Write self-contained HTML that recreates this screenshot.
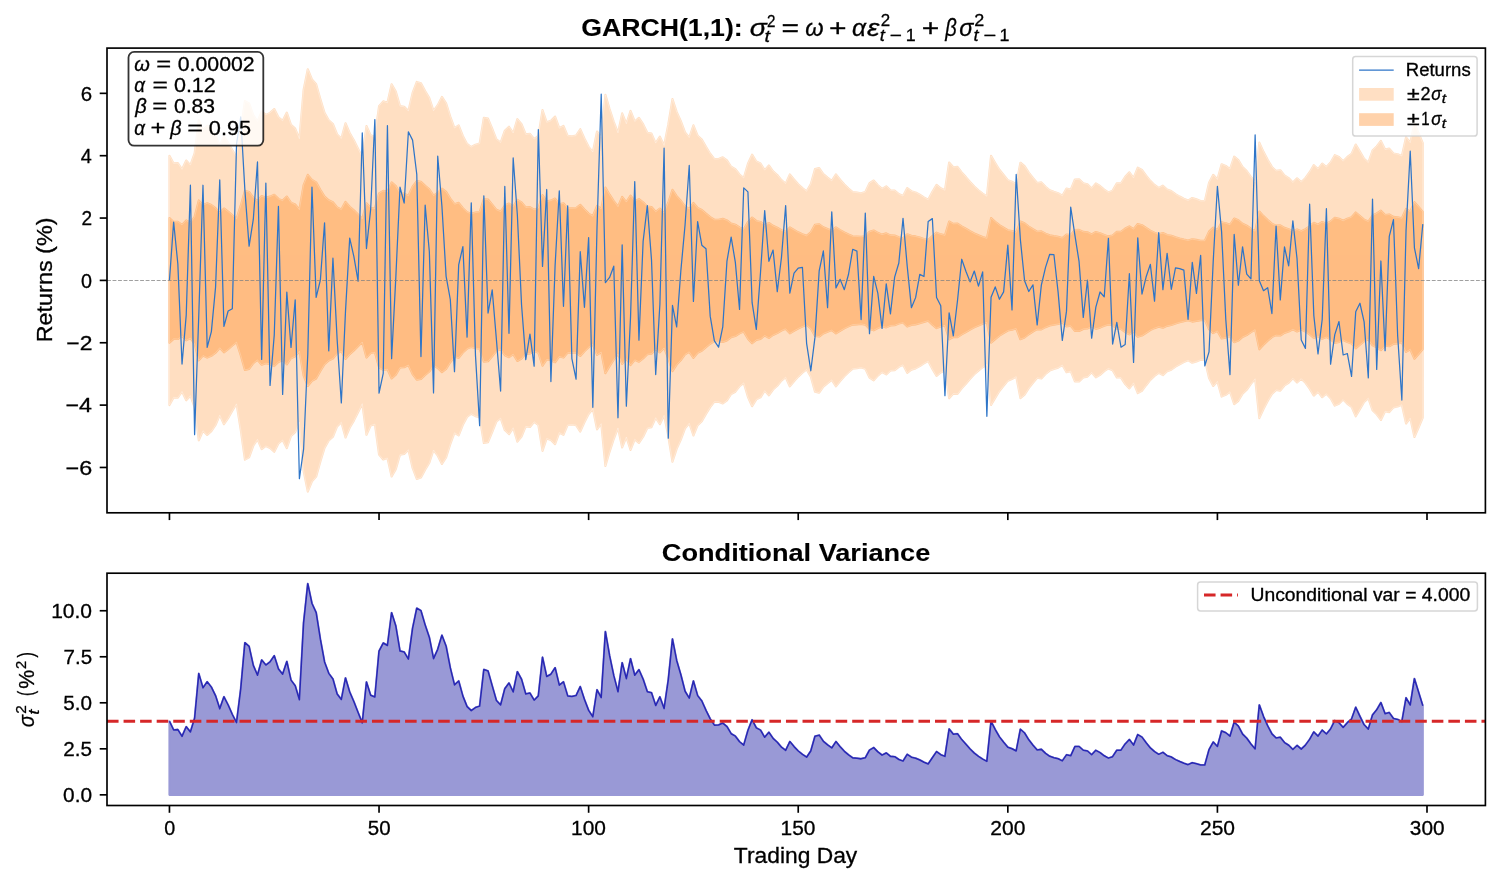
<!DOCTYPE html>
<html><head><meta charset="utf-8"><title>GARCH(1,1)</title><style>html,body{margin:0;padding:0;background:#fff;overflow:hidden;}svg{display:block;will-change:transform;} text{stroke:#000;stroke-width:0.3px;} text[font-weight="bold"]{stroke-width:0.1px;}</style></head><body>
<svg width="1501" height="883" viewBox="0 0 1501 883" font-family='"Liberation Sans", sans-serif'>
<rect x="0" y="0" width="1501" height="883" fill="#ffffff"/>
<defs><clipPath id="c1"><rect x="107" y="48.1" width="1378.4" height="464.7"/></clipPath><clipPath id="c2"><rect x="107" y="573.2" width="1378.4" height="232.3"/></clipPath></defs>
<g clip-path="url(#c1)">
<g opacity="0.25"><polygon points="169.45,155.69 173.64,163.41 177.83,163.05 182.03,169.32 186.22,160.49 190.41,165.12 194.6,153.29 198.79,120.38 202.98,130.08 207.18,125.88 211.37,129.57 215.56,135.77 219.75,145.64 223.94,136.53 228.14,142.66 232.33,150.12 236.52,156.91 240.71,130.94 244.9,101.13 249.09,103.37 253.29,115.02 257.48,121.46 261.67,111.63 265.86,114.83 270.05,112.84 274.25,109 278.44,117.32 282.63,120.78 286.82,112.57 291.01,124.77 295.2,128.61 299.4,138.69 303.59,89.83 307.78,69.21 311.97,79.36 316.16,84.2 320.36,99.1 324.55,112.89 328.74,120.21 332.93,124.01 337.12,134.41 341.32,138.53 345.51,123.26 349.7,133.01 353.89,140.16 358.08,148.6 362.27,157.12 366.47,126.04 370.66,135.34 374.85,136.66 379.04,106.2 383.23,101.34 387.43,102.8 391.62,84.27 395.81,91.6 400,106.14 404.19,106.77 408.38,111.07 412.58,92.86 416.77,81.88 420.96,83.18 425.15,91.06 429.34,98.05 433.54,110.79 437.73,105.1 441.92,96.85 446.11,103.27 450.3,116.61 454.49,128.03 458.69,125.32 462.88,135.99 467.07,143.89 471.26,147.02 475.45,144.66 479.65,143.53 483.84,117.74 488.03,118.63 492.22,128.71 496.41,139.26 500.6,142.6 504.8,130.69 508.99,126.71 513.18,133 517.37,119.14 521.56,124.21 525.76,134.4 529.95,133.82 534.14,139 538.33,135.83 542.52,109.96 546.71,122.34 550.91,120.78 555.1,116.58 559.29,128.22 563.48,125.95 567.67,135.84 571.87,136.22 576.06,135.6 580.25,129.21 584.44,138.47 588.63,146.82 592.83,152.06 597.02,131.47 601.21,137.09 605.4,94.76 609.59,108.98 613.78,121.75 617.98,132.86 622.17,113.37 626.36,123.74 630.55,110.88 634.74,121.46 638.94,117.84 643.13,124.11 647.32,132.79 651.51,133.62 655.7,143.07 659.89,136.58 664.09,145.42 668.28,124.53 672.47,99.02 676.66,111.93 680.85,121.11 685.05,132.48 689.24,137.54 693.43,125.3 697.62,135.64 701.81,139.58 706,146.87 710.2,153.68 714.39,159.08 718.58,158.95 722.77,157.26 726.96,160.38 731.16,166.77 735.35,169.08 739.54,174.48 743.73,177.96 747.92,163.8 752.11,154.6 756.31,161.44 760.5,163.46 764.69,170.15 768.88,165.47 773.07,171.24 777.27,174.99 781.46,180.1 785.65,183.56 789.84,174.35 794.03,179.46 798.22,184.17 802.42,188.01 806.61,191.27 810.8,184.11 814.99,169.08 819.18,168.11 823.38,174.16 827.57,177.64 831.76,180.9 835.95,174.34 840.14,179.7 844.34,184.51 848.53,188.47 852.72,192.02 856.91,192.51 861.1,193.22 865.29,191.96 869.49,183.19 873.68,180.5 877.87,185.17 882.06,188.82 886.25,186.35 890.45,190.26 894.64,190.64 898.83,193.97 903.02,196 907.21,187.98 911.4,191.16 915.6,192.39 919.79,194.68 923.98,197.37 928.17,199.73 932.36,191.85 936.56,184.91 940.75,188.28 944.94,190.24 949.13,162.49 953.32,167.18 957.51,166.87 961.71,172.37 965.9,177.06 970.09,182.01 974.28,186.52 978.47,190.2 982.67,193.54 986.86,196.28 991.05,155.85 995.24,162.97 999.43,169.75 1003.62,174.99 1007.82,180.09 1012.01,181.78 1016.2,184.13 1020.39,162.68 1024.58,166.09 1028.78,172.59 1032.97,178.01 1037.16,182.99 1041.35,182.38 1045.54,186.79 1049.73,190.22 1053.93,191.77 1058.12,193.14 1062.31,195.75 1066.5,188.48 1070.69,189.6 1074.89,179.44 1079.08,179.31 1083.27,183.31 1087.46,184.18 1091.65,188.41 1095.85,183.44 1100.04,185.93 1104.23,189.57 1108.42,192.34 1112.61,190.59 1116.8,183.35 1121,183.23 1125.19,176.69 1129.38,172.32 1133.57,177.96 1137.76,167.64 1141.96,169.96 1146.15,175.56 1150.34,180.87 1154.53,184.88 1158.72,187.9 1162.91,185.67 1167.11,189.48 1171.3,191.02 1175.49,194.11 1179.68,196.53 1183.87,198.66 1188.07,200.57 1192.26,197.98 1196.45,199.34 1200.64,200.95 1204.83,200.92 1209.02,182.76 1213.22,174.82 1217.41,179.38 1221.6,164.22 1225.79,165.9 1229.98,169.08 1234.18,156.62 1238.37,159.95 1242.56,167.13 1246.75,171.02 1250.94,176.83 1255.13,182 1259.33,142.62 1263.52,151.81 1267.71,159.77 1271.9,166.9 1276.09,170.88 1280.29,170.2 1284.48,175.33 1288.67,178.04 1292.86,182.55 1297.05,178.26 1301.25,182.13 1305.44,177.93 1309.63,172.19 1313.82,165.15 1318.01,169.07 1322.2,163.53 1326.4,167.05 1330.59,162.47 1334.78,155.15 1338.97,157.07 1343.16,161.18 1347.36,156.93 1351.55,153.92 1355.74,144.46 1359.93,151.61 1364.12,158.76 1368.31,162.56 1372.51,150.56 1376.7,146.43 1380.89,140.83 1385.08,149.53 1389.27,148.62 1393.47,153.42 1397.66,154.2 1401.85,156.02 1406.04,137.27 1410.23,142.66 1414.42,123.76 1418.62,133.26 1422.81,143.24 1422.81,417.56 1418.62,427.54 1414.42,437.04 1410.23,418.14 1406.04,423.53 1401.85,404.78 1397.66,406.6 1393.47,407.38 1389.27,412.18 1385.08,411.27 1380.89,419.97 1376.7,414.37 1372.51,410.24 1368.31,398.24 1364.12,402.04 1359.93,409.19 1355.74,416.34 1351.55,406.88 1347.36,403.87 1343.16,399.62 1338.97,403.73 1334.78,405.65 1330.59,398.33 1326.4,393.75 1322.2,397.27 1318.01,391.73 1313.82,395.65 1309.63,388.61 1305.44,382.87 1301.25,378.67 1297.05,382.54 1292.86,378.25 1288.67,382.76 1284.48,385.47 1280.29,390.6 1276.09,389.92 1271.9,393.9 1267.71,401.03 1263.52,408.99 1259.33,418.18 1255.13,378.8 1250.94,383.97 1246.75,389.78 1242.56,393.67 1238.37,400.85 1234.18,404.18 1229.98,391.72 1225.79,394.9 1221.6,396.58 1217.41,381.42 1213.22,385.98 1209.02,378.04 1204.83,359.88 1200.64,359.85 1196.45,361.46 1192.26,362.82 1188.07,360.23 1183.87,362.14 1179.68,364.27 1175.49,366.69 1171.3,369.78 1167.11,371.32 1162.91,375.13 1158.72,372.9 1154.53,375.92 1150.34,379.93 1146.15,385.24 1141.96,390.84 1137.76,393.16 1133.57,382.84 1129.38,388.48 1125.19,384.11 1121,377.57 1116.8,377.45 1112.61,370.21 1108.42,368.46 1104.23,371.23 1100.04,374.87 1095.85,377.36 1091.65,372.39 1087.46,376.62 1083.27,377.49 1079.08,381.49 1074.89,381.36 1070.69,371.2 1066.5,372.32 1062.31,365.05 1058.12,367.66 1053.93,369.03 1049.73,370.58 1045.54,374.01 1041.35,378.42 1037.16,377.81 1032.97,382.79 1028.78,388.21 1024.58,394.71 1020.39,398.12 1016.2,376.67 1012.01,379.02 1007.82,380.71 1003.62,385.81 999.43,391.05 995.24,397.83 991.05,404.95 986.86,364.52 982.67,367.26 978.47,370.6 974.28,374.28 970.09,378.79 965.9,383.74 961.71,388.43 957.51,393.93 953.32,393.62 949.13,398.31 944.94,370.56 940.75,372.52 936.56,375.89 932.36,368.95 928.17,361.07 923.98,363.43 919.79,366.12 915.6,368.41 911.4,369.64 907.21,372.82 903.02,364.8 898.83,366.83 894.64,370.16 890.45,370.54 886.25,374.45 882.06,371.98 877.87,375.63 873.68,380.3 869.49,377.61 865.29,368.84 861.1,367.58 856.91,368.29 852.72,368.78 848.53,372.33 844.34,376.29 840.14,381.1 835.95,386.46 831.76,379.9 827.57,383.16 823.38,386.64 819.18,392.69 814.99,391.72 810.8,376.69 806.61,369.53 802.42,372.79 798.22,376.63 794.03,381.34 789.84,386.45 785.65,377.24 781.46,380.7 777.27,385.81 773.07,389.56 768.88,395.33 764.69,390.65 760.5,397.34 756.31,399.36 752.11,406.2 747.92,397 743.73,382.84 739.54,386.32 735.35,391.72 731.16,394.03 726.96,400.42 722.77,403.54 718.58,401.85 714.39,401.72 710.2,407.12 706,413.93 701.81,421.22 697.62,425.16 693.43,435.5 689.24,423.26 685.05,428.32 680.85,439.69 676.66,448.87 672.47,461.78 668.28,436.27 664.09,415.38 659.89,424.22 655.7,417.73 651.51,427.18 647.32,428.01 643.13,436.69 638.94,442.96 634.74,439.34 630.55,449.92 626.36,437.06 622.17,447.43 617.98,427.94 613.78,439.05 609.59,451.82 605.4,466.04 601.21,423.71 597.02,429.33 592.83,408.74 588.63,413.98 584.44,422.33 580.25,431.59 576.06,425.2 571.87,424.58 567.67,424.96 563.48,434.85 559.29,432.58 555.1,444.22 550.91,440.02 546.71,438.46 542.52,450.84 538.33,424.97 534.14,421.8 529.95,426.98 525.76,426.4 521.56,436.59 517.37,441.66 513.18,427.8 508.99,434.09 504.8,430.11 500.6,418.2 496.41,421.54 492.22,432.09 488.03,442.17 483.84,443.06 479.65,417.27 475.45,416.14 471.26,413.78 467.07,416.91 462.88,424.81 458.69,435.48 454.49,432.77 450.3,444.19 446.11,457.53 441.92,463.95 437.73,455.7 433.54,450.01 429.34,462.75 425.15,469.74 420.96,477.62 416.77,478.92 412.58,467.94 408.38,449.73 404.19,454.03 400,454.66 395.81,469.2 391.62,476.53 387.43,458 383.23,459.46 379.04,454.6 374.85,424.14 370.66,425.46 366.47,434.76 362.27,403.68 358.08,412.2 353.89,420.64 349.7,427.79 345.51,437.54 341.32,422.27 337.12,426.39 332.93,436.79 328.74,440.59 324.55,447.91 320.36,461.7 316.16,476.6 311.97,481.44 307.78,491.59 303.59,470.97 299.4,422.11 295.2,432.19 291.01,436.03 286.82,448.23 282.63,440.02 278.44,443.48 274.25,451.8 270.05,447.96 265.86,445.97 261.67,449.17 257.48,439.34 253.29,445.78 249.09,457.43 244.9,459.67 240.71,429.86 236.52,403.89 232.33,410.68 228.14,418.14 223.94,424.27 219.75,415.16 215.56,425.03 211.37,431.23 207.18,434.92 202.98,430.72 198.79,440.42 194.6,407.51 190.41,395.68 186.22,400.31 182.03,391.48 177.83,397.75 173.64,397.39 169.45,405.11" fill="#ff7f0e" stroke="#ff7f0e" stroke-width="2.08" stroke-linejoin="round"/><polygon points="169.45,155.69 173.64,163.41 177.83,163.05 182.03,169.32 186.22,160.49 190.41,165.12 194.6,153.29 198.79,120.38 202.98,130.08 207.18,125.88 211.37,129.57 215.56,135.77 219.75,145.64 223.94,136.53 228.14,142.66 232.33,150.12 236.52,156.91 240.71,130.94 244.9,101.13 249.09,103.37 253.29,115.02 257.48,121.46 261.67,111.63 265.86,114.83 270.05,112.84 274.25,109 278.44,117.32 282.63,120.78 286.82,112.57 291.01,124.77 295.2,128.61 299.4,138.69 303.59,89.83 307.78,69.21 311.97,79.36 316.16,84.2 320.36,99.1 324.55,112.89 328.74,120.21 332.93,124.01 337.12,134.41 341.32,138.53 345.51,123.26 349.7,133.01 353.89,140.16 358.08,148.6 362.27,157.12 366.47,126.04 370.66,135.34 374.85,136.66 379.04,106.2 383.23,101.34 387.43,102.8 391.62,84.27 395.81,91.6 400,106.14 404.19,106.77 408.38,111.07 412.58,92.86 416.77,81.88 420.96,83.18 425.15,91.06 429.34,98.05 433.54,110.79 437.73,105.1 441.92,96.85 446.11,103.27 450.3,116.61 454.49,128.03 458.69,125.32 462.88,135.99 467.07,143.89 471.26,147.02 475.45,144.66 479.65,143.53 483.84,117.74 488.03,118.63 492.22,128.71 496.41,139.26 500.6,142.6 504.8,130.69 508.99,126.71 513.18,133 517.37,119.14 521.56,124.21 525.76,134.4 529.95,133.82 534.14,139 538.33,135.83 542.52,109.96 546.71,122.34 550.91,120.78 555.1,116.58 559.29,128.22 563.48,125.95 567.67,135.84 571.87,136.22 576.06,135.6 580.25,129.21 584.44,138.47 588.63,146.82 592.83,152.06 597.02,131.47 601.21,137.09 605.4,94.76 609.59,108.98 613.78,121.75 617.98,132.86 622.17,113.37 626.36,123.74 630.55,110.88 634.74,121.46 638.94,117.84 643.13,124.11 647.32,132.79 651.51,133.62 655.7,143.07 659.89,136.58 664.09,145.42 668.28,124.53 672.47,99.02 676.66,111.93 680.85,121.11 685.05,132.48 689.24,137.54 693.43,125.3 697.62,135.64 701.81,139.58 706,146.87 710.2,153.68 714.39,159.08 718.58,158.95 722.77,157.26 726.96,160.38 731.16,166.77 735.35,169.08 739.54,174.48 743.73,177.96 747.92,163.8 752.11,154.6 756.31,161.44 760.5,163.46 764.69,170.15 768.88,165.47 773.07,171.24 777.27,174.99 781.46,180.1 785.65,183.56 789.84,174.35 794.03,179.46 798.22,184.17 802.42,188.01 806.61,191.27 810.8,184.11 814.99,169.08 819.18,168.11 823.38,174.16 827.57,177.64 831.76,180.9 835.95,174.34 840.14,179.7 844.34,184.51 848.53,188.47 852.72,192.02 856.91,192.51 861.1,193.22 865.29,191.96 869.49,183.19 873.68,180.5 877.87,185.17 882.06,188.82 886.25,186.35 890.45,190.26 894.64,190.64 898.83,193.97 903.02,196 907.21,187.98 911.4,191.16 915.6,192.39 919.79,194.68 923.98,197.37 928.17,199.73 932.36,191.85 936.56,184.91 940.75,188.28 944.94,190.24 949.13,162.49 953.32,167.18 957.51,166.87 961.71,172.37 965.9,177.06 970.09,182.01 974.28,186.52 978.47,190.2 982.67,193.54 986.86,196.28 991.05,155.85 995.24,162.97 999.43,169.75 1003.62,174.99 1007.82,180.09 1012.01,181.78 1016.2,184.13 1020.39,162.68 1024.58,166.09 1028.78,172.59 1032.97,178.01 1037.16,182.99 1041.35,182.38 1045.54,186.79 1049.73,190.22 1053.93,191.77 1058.12,193.14 1062.31,195.75 1066.5,188.48 1070.69,189.6 1074.89,179.44 1079.08,179.31 1083.27,183.31 1087.46,184.18 1091.65,188.41 1095.85,183.44 1100.04,185.93 1104.23,189.57 1108.42,192.34 1112.61,190.59 1116.8,183.35 1121,183.23 1125.19,176.69 1129.38,172.32 1133.57,177.96 1137.76,167.64 1141.96,169.96 1146.15,175.56 1150.34,180.87 1154.53,184.88 1158.72,187.9 1162.91,185.67 1167.11,189.48 1171.3,191.02 1175.49,194.11 1179.68,196.53 1183.87,198.66 1188.07,200.57 1192.26,197.98 1196.45,199.34 1200.64,200.95 1204.83,200.92 1209.02,182.76 1213.22,174.82 1217.41,179.38 1221.6,164.22 1225.79,165.9 1229.98,169.08 1234.18,156.62 1238.37,159.95 1242.56,167.13 1246.75,171.02 1250.94,176.83 1255.13,182 1259.33,142.62 1263.52,151.81 1267.71,159.77 1271.9,166.9 1276.09,170.88 1280.29,170.2 1284.48,175.33 1288.67,178.04 1292.86,182.55 1297.05,178.26 1301.25,182.13 1305.44,177.93 1309.63,172.19 1313.82,165.15 1318.01,169.07 1322.2,163.53 1326.4,167.05 1330.59,162.47 1334.78,155.15 1338.97,157.07 1343.16,161.18 1347.36,156.93 1351.55,153.92 1355.74,144.46 1359.93,151.61 1364.12,158.76 1368.31,162.56 1372.51,150.56 1376.7,146.43 1380.89,140.83 1385.08,149.53 1389.27,148.62 1393.47,153.42 1397.66,154.2 1401.85,156.02 1406.04,137.27 1410.23,142.66 1414.42,123.76 1418.62,133.26 1422.81,143.24 1422.81,417.56 1418.62,427.54 1414.42,437.04 1410.23,418.14 1406.04,423.53 1401.85,404.78 1397.66,406.6 1393.47,407.38 1389.27,412.18 1385.08,411.27 1380.89,419.97 1376.7,414.37 1372.51,410.24 1368.31,398.24 1364.12,402.04 1359.93,409.19 1355.74,416.34 1351.55,406.88 1347.36,403.87 1343.16,399.62 1338.97,403.73 1334.78,405.65 1330.59,398.33 1326.4,393.75 1322.2,397.27 1318.01,391.73 1313.82,395.65 1309.63,388.61 1305.44,382.87 1301.25,378.67 1297.05,382.54 1292.86,378.25 1288.67,382.76 1284.48,385.47 1280.29,390.6 1276.09,389.92 1271.9,393.9 1267.71,401.03 1263.52,408.99 1259.33,418.18 1255.13,378.8 1250.94,383.97 1246.75,389.78 1242.56,393.67 1238.37,400.85 1234.18,404.18 1229.98,391.72 1225.79,394.9 1221.6,396.58 1217.41,381.42 1213.22,385.98 1209.02,378.04 1204.83,359.88 1200.64,359.85 1196.45,361.46 1192.26,362.82 1188.07,360.23 1183.87,362.14 1179.68,364.27 1175.49,366.69 1171.3,369.78 1167.11,371.32 1162.91,375.13 1158.72,372.9 1154.53,375.92 1150.34,379.93 1146.15,385.24 1141.96,390.84 1137.76,393.16 1133.57,382.84 1129.38,388.48 1125.19,384.11 1121,377.57 1116.8,377.45 1112.61,370.21 1108.42,368.46 1104.23,371.23 1100.04,374.87 1095.85,377.36 1091.65,372.39 1087.46,376.62 1083.27,377.49 1079.08,381.49 1074.89,381.36 1070.69,371.2 1066.5,372.32 1062.31,365.05 1058.12,367.66 1053.93,369.03 1049.73,370.58 1045.54,374.01 1041.35,378.42 1037.16,377.81 1032.97,382.79 1028.78,388.21 1024.58,394.71 1020.39,398.12 1016.2,376.67 1012.01,379.02 1007.82,380.71 1003.62,385.81 999.43,391.05 995.24,397.83 991.05,404.95 986.86,364.52 982.67,367.26 978.47,370.6 974.28,374.28 970.09,378.79 965.9,383.74 961.71,388.43 957.51,393.93 953.32,393.62 949.13,398.31 944.94,370.56 940.75,372.52 936.56,375.89 932.36,368.95 928.17,361.07 923.98,363.43 919.79,366.12 915.6,368.41 911.4,369.64 907.21,372.82 903.02,364.8 898.83,366.83 894.64,370.16 890.45,370.54 886.25,374.45 882.06,371.98 877.87,375.63 873.68,380.3 869.49,377.61 865.29,368.84 861.1,367.58 856.91,368.29 852.72,368.78 848.53,372.33 844.34,376.29 840.14,381.1 835.95,386.46 831.76,379.9 827.57,383.16 823.38,386.64 819.18,392.69 814.99,391.72 810.8,376.69 806.61,369.53 802.42,372.79 798.22,376.63 794.03,381.34 789.84,386.45 785.65,377.24 781.46,380.7 777.27,385.81 773.07,389.56 768.88,395.33 764.69,390.65 760.5,397.34 756.31,399.36 752.11,406.2 747.92,397 743.73,382.84 739.54,386.32 735.35,391.72 731.16,394.03 726.96,400.42 722.77,403.54 718.58,401.85 714.39,401.72 710.2,407.12 706,413.93 701.81,421.22 697.62,425.16 693.43,435.5 689.24,423.26 685.05,428.32 680.85,439.69 676.66,448.87 672.47,461.78 668.28,436.27 664.09,415.38 659.89,424.22 655.7,417.73 651.51,427.18 647.32,428.01 643.13,436.69 638.94,442.96 634.74,439.34 630.55,449.92 626.36,437.06 622.17,447.43 617.98,427.94 613.78,439.05 609.59,451.82 605.4,466.04 601.21,423.71 597.02,429.33 592.83,408.74 588.63,413.98 584.44,422.33 580.25,431.59 576.06,425.2 571.87,424.58 567.67,424.96 563.48,434.85 559.29,432.58 555.1,444.22 550.91,440.02 546.71,438.46 542.52,450.84 538.33,424.97 534.14,421.8 529.95,426.98 525.76,426.4 521.56,436.59 517.37,441.66 513.18,427.8 508.99,434.09 504.8,430.11 500.6,418.2 496.41,421.54 492.22,432.09 488.03,442.17 483.84,443.06 479.65,417.27 475.45,416.14 471.26,413.78 467.07,416.91 462.88,424.81 458.69,435.48 454.49,432.77 450.3,444.19 446.11,457.53 441.92,463.95 437.73,455.7 433.54,450.01 429.34,462.75 425.15,469.74 420.96,477.62 416.77,478.92 412.58,467.94 408.38,449.73 404.19,454.03 400,454.66 395.81,469.2 391.62,476.53 387.43,458 383.23,459.46 379.04,454.6 374.85,424.14 370.66,425.46 366.47,434.76 362.27,403.68 358.08,412.2 353.89,420.64 349.7,427.79 345.51,437.54 341.32,422.27 337.12,426.39 332.93,436.79 328.74,440.59 324.55,447.91 320.36,461.7 316.16,476.6 311.97,481.44 307.78,491.59 303.59,470.97 299.4,422.11 295.2,432.19 291.01,436.03 286.82,448.23 282.63,440.02 278.44,443.48 274.25,451.8 270.05,447.96 265.86,445.97 261.67,449.17 257.48,439.34 253.29,445.78 249.09,457.43 244.9,459.67 240.71,429.86 236.52,403.89 232.33,410.68 228.14,418.14 223.94,424.27 219.75,415.16 215.56,425.03 211.37,431.23 207.18,434.92 202.98,430.72 198.79,440.42 194.6,407.51 190.41,395.68 186.22,400.31 182.03,391.48 177.83,397.75 173.64,397.39 169.45,405.11" fill="none" stroke="#ffffff" stroke-opacity="0.4" stroke-width="0.8" stroke-linejoin="round"/></g>
<g opacity="0.35"><polygon points="169.45,218.05 173.64,221.91 177.83,221.73 182.03,224.86 186.22,220.44 190.41,222.76 194.6,216.84 198.79,200.39 202.98,205.24 207.18,203.14 211.37,204.99 215.56,208.09 219.75,213.02 223.94,208.46 228.14,211.53 232.33,215.26 236.52,218.66 240.71,205.67 244.9,190.76 249.09,191.88 253.29,197.71 257.48,200.93 261.67,196.02 265.86,197.62 270.05,196.62 274.25,194.7 278.44,198.86 282.63,200.59 286.82,196.49 291.01,202.58 295.2,204.51 299.4,209.55 303.59,185.11 307.78,174.81 311.97,179.88 316.16,182.3 320.36,189.75 324.55,196.65 328.74,200.31 332.93,202.2 337.12,207.4 341.32,209.47 345.51,201.83 349.7,206.7 353.89,210.28 358.08,214.5 362.27,218.76 366.47,203.22 370.66,207.87 374.85,208.53 379.04,193.3 383.23,190.87 387.43,191.6 391.62,182.33 395.81,186 400,193.27 404.19,193.58 408.38,195.74 412.58,186.63 416.77,181.14 420.96,181.79 425.15,185.73 429.34,189.23 433.54,195.59 437.73,192.75 441.92,188.63 446.11,191.84 450.3,198.51 454.49,204.21 458.69,202.86 462.88,208.2 467.07,212.15 471.26,213.71 475.45,212.53 479.65,211.97 483.84,199.07 488.03,199.51 492.22,204.55 496.41,209.83 500.6,211.5 504.8,205.54 508.99,203.56 513.18,206.7 517.37,199.77 521.56,202.31 525.76,207.4 529.95,207.11 534.14,209.7 538.33,208.12 542.52,195.18 546.71,201.37 550.91,200.59 555.1,198.49 559.29,204.31 563.48,203.18 567.67,208.12 571.87,208.31 576.06,208 580.25,204.81 584.44,209.44 588.63,213.61 592.83,216.23 597.02,205.93 601.21,208.74 605.4,187.58 609.59,194.69 613.78,201.07 617.98,206.63 622.17,196.88 626.36,202.07 630.55,195.64 634.74,200.93 638.94,199.12 643.13,202.26 647.32,206.6 651.51,207.01 655.7,211.74 659.89,208.49 664.09,212.91 668.28,202.47 672.47,189.71 676.66,196.16 680.85,200.76 685.05,206.44 689.24,208.97 693.43,202.85 697.62,208.02 701.81,209.99 706,213.64 710.2,217.04 714.39,219.74 718.58,219.67 722.77,218.83 726.96,220.39 731.16,223.59 735.35,224.74 739.54,227.44 743.73,229.18 747.92,222.1 752.11,217.5 756.31,220.92 760.5,221.93 764.69,225.28 768.88,222.94 773.07,225.82 777.27,227.7 781.46,230.25 785.65,231.98 789.84,227.38 794.03,229.93 798.22,232.29 802.42,234.21 806.61,235.83 810.8,232.26 814.99,224.74 819.18,224.25 823.38,227.28 827.57,229.02 831.76,230.65 835.95,227.37 840.14,230.05 844.34,232.45 848.53,234.44 852.72,236.21 856.91,236.45 861.1,236.81 865.29,236.18 869.49,231.8 873.68,230.45 877.87,232.79 882.06,234.61 886.25,233.37 890.45,235.33 894.64,235.52 898.83,237.19 903.02,238.2 907.21,234.19 911.4,235.78 915.6,236.4 919.79,237.54 923.98,238.88 928.17,240.07 932.36,236.12 936.56,232.65 940.75,234.34 944.94,235.32 949.13,221.45 953.32,223.79 957.51,223.64 961.71,226.39 965.9,228.73 970.09,231.2 974.28,233.46 978.47,235.3 982.67,236.97 986.86,238.34 991.05,218.12 995.24,221.69 999.43,225.08 1003.62,227.7 1007.82,230.24 1012.01,231.09 1016.2,232.26 1020.39,221.54 1024.58,223.25 1028.78,226.5 1032.97,229.2 1037.16,231.69 1041.35,231.39 1045.54,233.6 1049.73,235.31 1053.93,236.09 1058.12,236.77 1062.31,238.07 1066.5,234.44 1070.69,235 1074.89,229.92 1079.08,229.85 1083.27,231.85 1087.46,232.29 1091.65,234.41 1095.85,231.92 1100.04,233.16 1104.23,234.99 1108.42,236.37 1112.61,235.5 1116.8,231.87 1121,231.81 1125.19,228.54 1129.38,226.36 1133.57,229.18 1137.76,224.02 1141.96,225.18 1146.15,227.98 1150.34,230.64 1154.53,232.64 1158.72,234.15 1162.91,233.03 1167.11,234.94 1171.3,235.71 1175.49,237.25 1179.68,238.47 1183.87,239.53 1188.07,240.48 1192.26,239.19 1196.45,239.87 1200.64,240.68 1204.83,240.66 1209.02,231.58 1213.22,227.61 1217.41,229.89 1221.6,222.31 1225.79,223.15 1229.98,224.74 1234.18,218.51 1238.37,220.18 1242.56,223.76 1246.75,225.71 1250.94,228.61 1255.13,231.2 1259.33,211.51 1263.52,216.11 1267.71,220.09 1271.9,223.65 1276.09,225.64 1280.29,225.3 1284.48,227.86 1288.67,229.22 1292.86,231.47 1297.05,229.33 1301.25,231.26 1305.44,229.17 1309.63,226.3 1313.82,222.77 1318.01,224.74 1322.2,221.97 1326.4,223.72 1330.59,221.43 1334.78,217.78 1338.97,218.73 1343.16,220.79 1347.36,218.66 1351.55,217.16 1355.74,212.43 1359.93,216 1364.12,219.58 1368.31,221.48 1372.51,215.48 1376.7,213.41 1380.89,210.61 1385.08,214.97 1389.27,214.51 1393.47,216.91 1397.66,217.3 1401.85,218.21 1406.04,208.83 1410.23,211.53 1414.42,202.08 1418.62,206.83 1422.81,211.82 1422.81,348.98 1418.62,353.97 1414.42,358.72 1410.23,349.27 1406.04,351.97 1401.85,342.59 1397.66,343.5 1393.47,343.89 1389.27,346.29 1385.08,345.83 1380.89,350.19 1376.7,347.39 1372.51,345.32 1368.31,339.32 1364.12,341.22 1359.93,344.8 1355.74,348.37 1351.55,343.64 1347.36,342.14 1343.16,340.01 1338.97,342.07 1334.78,343.02 1330.59,339.37 1326.4,337.08 1322.2,338.83 1318.01,336.06 1313.82,338.03 1309.63,334.5 1305.44,331.63 1301.25,329.54 1297.05,331.47 1292.86,329.33 1288.67,331.58 1284.48,332.94 1280.29,335.5 1276.09,335.16 1271.9,337.15 1267.71,340.71 1263.52,344.69 1259.33,349.29 1255.13,329.6 1250.94,332.19 1246.75,335.09 1242.56,337.04 1238.37,340.62 1234.18,342.29 1229.98,336.06 1225.79,337.65 1221.6,338.49 1217.41,330.91 1213.22,333.19 1209.02,329.22 1204.83,320.14 1200.64,320.12 1196.45,320.93 1192.26,321.61 1188.07,320.32 1183.87,321.27 1179.68,322.33 1175.49,323.55 1171.3,325.09 1167.11,325.86 1162.91,327.77 1158.72,326.65 1154.53,328.16 1150.34,330.16 1146.15,332.82 1141.96,335.62 1137.76,336.78 1133.57,331.62 1129.38,334.44 1125.19,332.26 1121,328.99 1116.8,328.93 1112.61,325.3 1108.42,324.43 1104.23,325.81 1100.04,327.64 1095.85,328.88 1091.65,326.39 1087.46,328.51 1083.27,328.95 1079.08,330.95 1074.89,330.88 1070.69,325.8 1066.5,326.36 1062.31,322.73 1058.12,324.03 1053.93,324.71 1049.73,325.49 1045.54,327.2 1041.35,329.41 1037.16,329.11 1032.97,331.6 1028.78,334.3 1024.58,337.55 1020.39,339.26 1016.2,328.54 1012.01,329.71 1007.82,330.56 1003.62,333.1 999.43,335.72 995.24,339.11 991.05,342.68 986.86,322.46 982.67,323.83 978.47,325.5 974.28,327.34 970.09,329.6 965.9,332.07 961.71,334.41 957.51,337.16 953.32,337.01 949.13,339.35 944.94,325.48 940.75,326.46 936.56,328.15 932.36,324.68 928.17,320.73 923.98,321.92 919.79,323.26 915.6,324.4 911.4,325.02 907.21,326.61 903.02,322.6 898.83,323.61 894.64,325.28 890.45,325.47 886.25,327.43 882.06,326.19 877.87,328.01 873.68,330.35 869.49,329 865.29,324.62 861.1,323.99 856.91,324.35 852.72,324.59 848.53,326.36 844.34,328.35 840.14,330.75 835.95,333.43 831.76,330.15 827.57,331.78 823.38,333.52 819.18,336.55 814.99,336.06 810.8,328.54 806.61,324.97 802.42,326.59 798.22,328.51 794.03,330.87 789.84,333.42 785.65,328.82 781.46,330.55 777.27,333.1 773.07,334.98 768.88,337.86 764.69,335.52 760.5,338.87 756.31,339.88 752.11,343.3 747.92,338.7 743.73,331.62 739.54,333.36 735.35,336.06 731.16,337.21 726.96,340.41 722.77,341.97 718.58,341.13 714.39,341.06 710.2,343.76 706,347.16 701.81,350.81 697.62,352.78 693.43,357.95 689.24,351.83 685.05,354.36 680.85,360.04 676.66,364.64 672.47,371.09 668.28,358.33 664.09,347.89 659.89,352.31 655.7,349.06 651.51,353.79 647.32,354.2 643.13,358.54 638.94,361.68 634.74,359.87 630.55,365.16 626.36,358.73 622.17,363.92 617.98,354.17 613.78,359.73 609.59,366.11 605.4,373.22 601.21,352.06 597.02,354.87 592.83,344.57 588.63,347.19 584.44,351.36 580.25,355.99 576.06,352.8 571.87,352.49 567.67,352.68 563.48,357.62 559.29,356.49 555.1,362.31 550.91,360.21 546.71,359.43 542.52,365.62 538.33,352.68 534.14,351.1 529.95,353.69 525.76,353.4 521.56,358.49 517.37,361.03 513.18,354.1 508.99,357.24 504.8,355.26 500.6,349.3 496.41,350.97 492.22,356.25 488.03,361.29 483.84,361.73 479.65,348.83 475.45,348.27 471.26,347.09 467.07,348.65 462.88,352.6 458.69,357.94 454.49,356.59 450.3,362.29 446.11,368.96 441.92,372.17 437.73,368.05 433.54,365.21 429.34,371.57 425.15,375.07 420.96,379.01 416.77,379.66 412.58,374.17 408.38,365.06 404.19,367.22 400,367.53 395.81,374.8 391.62,378.47 387.43,369.2 383.23,369.93 379.04,367.5 374.85,352.27 370.66,352.93 366.47,357.58 362.27,342.04 358.08,346.3 353.89,350.52 349.7,354.1 345.51,358.97 341.32,351.33 337.12,353.4 332.93,358.6 328.74,360.49 324.55,364.15 320.36,371.05 316.16,378.5 311.97,380.92 307.78,385.99 303.59,375.69 299.4,351.25 295.2,356.29 291.01,358.22 286.82,364.31 282.63,360.21 278.44,361.94 274.25,366.1 270.05,364.18 265.86,363.18 261.67,364.78 257.48,359.87 253.29,363.09 249.09,368.92 244.9,370.04 240.71,355.13 236.52,342.14 232.33,345.54 228.14,349.27 223.94,352.34 219.75,347.78 215.56,352.71 211.37,355.81 207.18,357.66 202.98,355.56 198.79,360.41 194.6,343.96 190.41,338.04 186.22,340.36 182.03,335.94 177.83,339.07 173.64,338.89 169.45,342.75" fill="#ff7f0e" stroke="#ff7f0e" stroke-width="2.08" stroke-linejoin="round"/><polygon points="169.45,218.05 173.64,221.91 177.83,221.73 182.03,224.86 186.22,220.44 190.41,222.76 194.6,216.84 198.79,200.39 202.98,205.24 207.18,203.14 211.37,204.99 215.56,208.09 219.75,213.02 223.94,208.46 228.14,211.53 232.33,215.26 236.52,218.66 240.71,205.67 244.9,190.76 249.09,191.88 253.29,197.71 257.48,200.93 261.67,196.02 265.86,197.62 270.05,196.62 274.25,194.7 278.44,198.86 282.63,200.59 286.82,196.49 291.01,202.58 295.2,204.51 299.4,209.55 303.59,185.11 307.78,174.81 311.97,179.88 316.16,182.3 320.36,189.75 324.55,196.65 328.74,200.31 332.93,202.2 337.12,207.4 341.32,209.47 345.51,201.83 349.7,206.7 353.89,210.28 358.08,214.5 362.27,218.76 366.47,203.22 370.66,207.87 374.85,208.53 379.04,193.3 383.23,190.87 387.43,191.6 391.62,182.33 395.81,186 400,193.27 404.19,193.58 408.38,195.74 412.58,186.63 416.77,181.14 420.96,181.79 425.15,185.73 429.34,189.23 433.54,195.59 437.73,192.75 441.92,188.63 446.11,191.84 450.3,198.51 454.49,204.21 458.69,202.86 462.88,208.2 467.07,212.15 471.26,213.71 475.45,212.53 479.65,211.97 483.84,199.07 488.03,199.51 492.22,204.55 496.41,209.83 500.6,211.5 504.8,205.54 508.99,203.56 513.18,206.7 517.37,199.77 521.56,202.31 525.76,207.4 529.95,207.11 534.14,209.7 538.33,208.12 542.52,195.18 546.71,201.37 550.91,200.59 555.1,198.49 559.29,204.31 563.48,203.18 567.67,208.12 571.87,208.31 576.06,208 580.25,204.81 584.44,209.44 588.63,213.61 592.83,216.23 597.02,205.93 601.21,208.74 605.4,187.58 609.59,194.69 613.78,201.07 617.98,206.63 622.17,196.88 626.36,202.07 630.55,195.64 634.74,200.93 638.94,199.12 643.13,202.26 647.32,206.6 651.51,207.01 655.7,211.74 659.89,208.49 664.09,212.91 668.28,202.47 672.47,189.71 676.66,196.16 680.85,200.76 685.05,206.44 689.24,208.97 693.43,202.85 697.62,208.02 701.81,209.99 706,213.64 710.2,217.04 714.39,219.74 718.58,219.67 722.77,218.83 726.96,220.39 731.16,223.59 735.35,224.74 739.54,227.44 743.73,229.18 747.92,222.1 752.11,217.5 756.31,220.92 760.5,221.93 764.69,225.28 768.88,222.94 773.07,225.82 777.27,227.7 781.46,230.25 785.65,231.98 789.84,227.38 794.03,229.93 798.22,232.29 802.42,234.21 806.61,235.83 810.8,232.26 814.99,224.74 819.18,224.25 823.38,227.28 827.57,229.02 831.76,230.65 835.95,227.37 840.14,230.05 844.34,232.45 848.53,234.44 852.72,236.21 856.91,236.45 861.1,236.81 865.29,236.18 869.49,231.8 873.68,230.45 877.87,232.79 882.06,234.61 886.25,233.37 890.45,235.33 894.64,235.52 898.83,237.19 903.02,238.2 907.21,234.19 911.4,235.78 915.6,236.4 919.79,237.54 923.98,238.88 928.17,240.07 932.36,236.12 936.56,232.65 940.75,234.34 944.94,235.32 949.13,221.45 953.32,223.79 957.51,223.64 961.71,226.39 965.9,228.73 970.09,231.2 974.28,233.46 978.47,235.3 982.67,236.97 986.86,238.34 991.05,218.12 995.24,221.69 999.43,225.08 1003.62,227.7 1007.82,230.24 1012.01,231.09 1016.2,232.26 1020.39,221.54 1024.58,223.25 1028.78,226.5 1032.97,229.2 1037.16,231.69 1041.35,231.39 1045.54,233.6 1049.73,235.31 1053.93,236.09 1058.12,236.77 1062.31,238.07 1066.5,234.44 1070.69,235 1074.89,229.92 1079.08,229.85 1083.27,231.85 1087.46,232.29 1091.65,234.41 1095.85,231.92 1100.04,233.16 1104.23,234.99 1108.42,236.37 1112.61,235.5 1116.8,231.87 1121,231.81 1125.19,228.54 1129.38,226.36 1133.57,229.18 1137.76,224.02 1141.96,225.18 1146.15,227.98 1150.34,230.64 1154.53,232.64 1158.72,234.15 1162.91,233.03 1167.11,234.94 1171.3,235.71 1175.49,237.25 1179.68,238.47 1183.87,239.53 1188.07,240.48 1192.26,239.19 1196.45,239.87 1200.64,240.68 1204.83,240.66 1209.02,231.58 1213.22,227.61 1217.41,229.89 1221.6,222.31 1225.79,223.15 1229.98,224.74 1234.18,218.51 1238.37,220.18 1242.56,223.76 1246.75,225.71 1250.94,228.61 1255.13,231.2 1259.33,211.51 1263.52,216.11 1267.71,220.09 1271.9,223.65 1276.09,225.64 1280.29,225.3 1284.48,227.86 1288.67,229.22 1292.86,231.47 1297.05,229.33 1301.25,231.26 1305.44,229.17 1309.63,226.3 1313.82,222.77 1318.01,224.74 1322.2,221.97 1326.4,223.72 1330.59,221.43 1334.78,217.78 1338.97,218.73 1343.16,220.79 1347.36,218.66 1351.55,217.16 1355.74,212.43 1359.93,216 1364.12,219.58 1368.31,221.48 1372.51,215.48 1376.7,213.41 1380.89,210.61 1385.08,214.97 1389.27,214.51 1393.47,216.91 1397.66,217.3 1401.85,218.21 1406.04,208.83 1410.23,211.53 1414.42,202.08 1418.62,206.83 1422.81,211.82 1422.81,348.98 1418.62,353.97 1414.42,358.72 1410.23,349.27 1406.04,351.97 1401.85,342.59 1397.66,343.5 1393.47,343.89 1389.27,346.29 1385.08,345.83 1380.89,350.19 1376.7,347.39 1372.51,345.32 1368.31,339.32 1364.12,341.22 1359.93,344.8 1355.74,348.37 1351.55,343.64 1347.36,342.14 1343.16,340.01 1338.97,342.07 1334.78,343.02 1330.59,339.37 1326.4,337.08 1322.2,338.83 1318.01,336.06 1313.82,338.03 1309.63,334.5 1305.44,331.63 1301.25,329.54 1297.05,331.47 1292.86,329.33 1288.67,331.58 1284.48,332.94 1280.29,335.5 1276.09,335.16 1271.9,337.15 1267.71,340.71 1263.52,344.69 1259.33,349.29 1255.13,329.6 1250.94,332.19 1246.75,335.09 1242.56,337.04 1238.37,340.62 1234.18,342.29 1229.98,336.06 1225.79,337.65 1221.6,338.49 1217.41,330.91 1213.22,333.19 1209.02,329.22 1204.83,320.14 1200.64,320.12 1196.45,320.93 1192.26,321.61 1188.07,320.32 1183.87,321.27 1179.68,322.33 1175.49,323.55 1171.3,325.09 1167.11,325.86 1162.91,327.77 1158.72,326.65 1154.53,328.16 1150.34,330.16 1146.15,332.82 1141.96,335.62 1137.76,336.78 1133.57,331.62 1129.38,334.44 1125.19,332.26 1121,328.99 1116.8,328.93 1112.61,325.3 1108.42,324.43 1104.23,325.81 1100.04,327.64 1095.85,328.88 1091.65,326.39 1087.46,328.51 1083.27,328.95 1079.08,330.95 1074.89,330.88 1070.69,325.8 1066.5,326.36 1062.31,322.73 1058.12,324.03 1053.93,324.71 1049.73,325.49 1045.54,327.2 1041.35,329.41 1037.16,329.11 1032.97,331.6 1028.78,334.3 1024.58,337.55 1020.39,339.26 1016.2,328.54 1012.01,329.71 1007.82,330.56 1003.62,333.1 999.43,335.72 995.24,339.11 991.05,342.68 986.86,322.46 982.67,323.83 978.47,325.5 974.28,327.34 970.09,329.6 965.9,332.07 961.71,334.41 957.51,337.16 953.32,337.01 949.13,339.35 944.94,325.48 940.75,326.46 936.56,328.15 932.36,324.68 928.17,320.73 923.98,321.92 919.79,323.26 915.6,324.4 911.4,325.02 907.21,326.61 903.02,322.6 898.83,323.61 894.64,325.28 890.45,325.47 886.25,327.43 882.06,326.19 877.87,328.01 873.68,330.35 869.49,329 865.29,324.62 861.1,323.99 856.91,324.35 852.72,324.59 848.53,326.36 844.34,328.35 840.14,330.75 835.95,333.43 831.76,330.15 827.57,331.78 823.38,333.52 819.18,336.55 814.99,336.06 810.8,328.54 806.61,324.97 802.42,326.59 798.22,328.51 794.03,330.87 789.84,333.42 785.65,328.82 781.46,330.55 777.27,333.1 773.07,334.98 768.88,337.86 764.69,335.52 760.5,338.87 756.31,339.88 752.11,343.3 747.92,338.7 743.73,331.62 739.54,333.36 735.35,336.06 731.16,337.21 726.96,340.41 722.77,341.97 718.58,341.13 714.39,341.06 710.2,343.76 706,347.16 701.81,350.81 697.62,352.78 693.43,357.95 689.24,351.83 685.05,354.36 680.85,360.04 676.66,364.64 672.47,371.09 668.28,358.33 664.09,347.89 659.89,352.31 655.7,349.06 651.51,353.79 647.32,354.2 643.13,358.54 638.94,361.68 634.74,359.87 630.55,365.16 626.36,358.73 622.17,363.92 617.98,354.17 613.78,359.73 609.59,366.11 605.4,373.22 601.21,352.06 597.02,354.87 592.83,344.57 588.63,347.19 584.44,351.36 580.25,355.99 576.06,352.8 571.87,352.49 567.67,352.68 563.48,357.62 559.29,356.49 555.1,362.31 550.91,360.21 546.71,359.43 542.52,365.62 538.33,352.68 534.14,351.1 529.95,353.69 525.76,353.4 521.56,358.49 517.37,361.03 513.18,354.1 508.99,357.24 504.8,355.26 500.6,349.3 496.41,350.97 492.22,356.25 488.03,361.29 483.84,361.73 479.65,348.83 475.45,348.27 471.26,347.09 467.07,348.65 462.88,352.6 458.69,357.94 454.49,356.59 450.3,362.29 446.11,368.96 441.92,372.17 437.73,368.05 433.54,365.21 429.34,371.57 425.15,375.07 420.96,379.01 416.77,379.66 412.58,374.17 408.38,365.06 404.19,367.22 400,367.53 395.81,374.8 391.62,378.47 387.43,369.2 383.23,369.93 379.04,367.5 374.85,352.27 370.66,352.93 366.47,357.58 362.27,342.04 358.08,346.3 353.89,350.52 349.7,354.1 345.51,358.97 341.32,351.33 337.12,353.4 332.93,358.6 328.74,360.49 324.55,364.15 320.36,371.05 316.16,378.5 311.97,380.92 307.78,385.99 303.59,375.69 299.4,351.25 295.2,356.29 291.01,358.22 286.82,364.31 282.63,360.21 278.44,361.94 274.25,366.1 270.05,364.18 265.86,363.18 261.67,364.78 257.48,359.87 253.29,363.09 249.09,368.92 244.9,370.04 240.71,355.13 236.52,342.14 232.33,345.54 228.14,349.27 223.94,352.34 219.75,347.78 215.56,352.71 211.37,355.81 207.18,357.66 202.98,355.56 198.79,360.41 194.6,343.96 190.41,338.04 186.22,340.36 182.03,335.94 177.83,339.07 173.64,338.89 169.45,342.75" fill="none" stroke="#ffffff" stroke-opacity="0.4" stroke-width="0.8" stroke-linejoin="round"/></g>
<polyline points="169.45,280.4 173.64,222.06 177.83,263.8 182.03,364.06 186.22,315.09 190.41,185.21 194.6,434.63 198.79,314.72 202.98,185.25 207.18,347.37 211.37,331.6 215.56,287.25 219.75,179.91 223.94,326.36 228.14,310.98 232.33,308.69 236.52,144.2 240.71,116.98 244.9,190.4 249.09,246.22 253.29,219.43 257.48,161.93 261.67,359.37 265.86,183.06 270.05,385.45 274.25,335.06 278.44,206.43 282.63,394.42 286.82,292.15 291.01,347.46 295.2,299.8 299.4,478.69 303.59,449.2 307.78,354.3 311.97,187.17 316.16,297.43 320.36,280.14 324.55,222.76 328.74,350.85 332.93,258.22 337.12,339.19 341.32,402.95 345.51,311.11 349.7,238.11 353.89,256.66 358.08,281.18 362.27,132.94 366.47,248.53 370.66,209.41 374.85,119.54 379.04,393.12 383.23,373.41 387.43,125.56 391.62,358.66 395.81,277.6 400,187.23 404.19,203.07 408.38,131.83 412.58,140.15 416.77,174.25 420.96,356.6 425.15,205.15 429.34,251.75 433.54,392.88 437.73,156.18 441.92,206.32 446.11,276.37 450.3,299.49 454.49,371.7 458.69,264.93 462.88,246.58 467.07,337.13 471.26,202.89 475.45,354.87 479.65,425.69 483.84,195.84 488.03,313.03 492.22,289.96 496.41,339.5 500.6,391.05 504.8,186.44 508.99,333.34 513.18,157.99 517.37,215.31 521.56,304.98 525.76,359.67 529.95,334.08 534.14,366.12 538.33,129.54 542.52,266.39 546.71,189.5 550.91,381.55 555.1,265.57 559.29,190.78 563.48,306.27 567.67,205.87 571.87,358.59 576.06,379.11 580.25,251.72 584.44,307.31 588.63,237.52 592.83,407.32 597.02,227.36 601.21,94.22 605.4,282.69 609.59,277.47 613.78,266.16 617.98,417.75 622.17,244.81 626.36,406.15 630.55,316.65 634.74,181.63 638.94,340.16 643.13,241.23 647.32,205.66 651.51,259.94 655.7,374.54 659.89,304.31 664.09,148.16 668.28,438.22 672.47,305.41 676.66,326.91 680.85,270.78 685.05,225.06 689.24,165.49 693.43,301.36 697.62,221.6 701.81,245.21 706,248.73 710.2,316.13 714.39,340.9 718.58,347.2 722.77,326.97 726.96,261.1 731.16,237.17 735.35,262.4 739.54,309.47 743.73,187.9 747.92,191.85 752.11,302.67 756.31,329.38 760.5,272.79 764.69,210.54 768.88,261.28 773.07,250.02 777.27,291.58 781.46,257.52 785.65,205.61 789.84,293.11 794.03,273.17 798.22,268.19 802.42,267.29 806.61,343.32 810.8,370.76 814.99,337.15 819.18,270.97 823.38,250.98 827.57,307.67 831.76,211.88 835.95,287.99 840.14,279.38 844.34,289.7 848.53,274.24 852.72,249.27 856.91,251.15 861.1,319.56 865.29,213.02 869.49,333.62 873.68,276.44 877.87,293.47 882.06,328.43 886.25,283.93 890.45,313.79 894.64,277.13 898.83,262.98 903.02,218.28 907.21,266.2 911.4,307.67 915.6,297.63 919.79,274.4 923.98,276.52 928.17,221.53 932.36,218.62 936.56,297.54 940.75,305.67 944.94,395.67 949.13,312.76 953.32,335.77 957.51,300.54 961.71,259.25 965.9,271.24 970.09,281.87 974.28,271.03 978.47,286.09 982.67,271.84 986.86,416.29 991.05,297.17 995.24,286.91 999.43,299.28 1003.62,291.89 1007.82,245.12 1012.01,309.89 1016.2,174.47 1020.39,239.89 1024.58,280.76 1028.78,291.54 1032.97,284.83 1037.16,324.98 1041.35,285.07 1045.54,267.36 1049.73,254.27 1053.93,254.71 1058.12,292.39 1062.31,340.34 1066.5,311.15 1070.69,207.2 1074.89,235.17 1079.08,261.72 1083.27,317.36 1087.46,280.22 1091.65,338.15 1095.85,307.16 1100.04,291.98 1104.23,296.82 1108.42,238.28 1112.61,344.1 1116.8,322.4 1121,347.19 1125.19,344.56 1129.38,273.7 1133.57,362.38 1137.76,237.9 1141.96,294.03 1146.15,276.79 1150.34,264.35 1154.53,301.13 1158.72,232.65 1162.91,289.61 1167.11,253.39 1171.3,289.3 1175.49,267.85 1179.68,268.67 1183.87,270.18 1188.07,319.29 1192.26,262.44 1196.45,293.33 1200.64,255.35 1204.83,365.94 1209.02,351.93 1213.22,261.21 1217.41,186.3 1221.6,231.89 1225.79,319.47 1229.98,374.58 1234.18,234.44 1238.37,285.25 1242.56,246.94 1246.75,274.09 1250.94,278.86 1255.13,134.84 1259.33,280.82 1263.52,290.64 1267.71,287.73 1271.9,313.51 1276.09,226.18 1280.29,299.89 1284.48,246.99 1288.67,265.83 1292.86,220.76 1297.05,258.94 1301.25,340.02 1305.44,348.36 1309.63,204.2 1313.82,315.48 1318.01,353.91 1322.2,319.53 1326.4,208.73 1330.59,364.14 1334.78,334.66 1338.97,321.52 1343.16,354.99 1347.36,353.52 1351.55,376.41 1355.74,311.75 1359.93,303.26 1364.12,321.91 1368.31,377.83 1372.51,199.03 1376.7,369.43 1380.89,261 1385.08,350.73 1389.27,236.36 1393.47,219.72 1397.66,335.78 1401.85,400.03 1406.04,230.61 1410.23,151.22 1414.42,247.84 1418.62,268.59 1422.81,224.18" fill="none" stroke="#2E75C8" stroke-width="1.25" stroke-linejoin="round"/>
<line x1="107" y1="280.4" x2="1485.4" y2="280.4" stroke="#808080" stroke-opacity="0.75" stroke-width="1.04" stroke-dasharray="3.85 1.67"/>
</g>
<rect x="107" y="48.1" width="1378.4" height="464.7" fill="none" stroke="#000" stroke-width="1.667" stroke-linejoin="miter"/>
<line x1="169.45" y1="512.8" x2="169.45" y2="520.09" stroke="#000" stroke-width="1.667"/>
<line x1="379.04" y1="512.8" x2="379.04" y2="520.09" stroke="#000" stroke-width="1.667"/>
<line x1="588.63" y1="512.8" x2="588.63" y2="520.09" stroke="#000" stroke-width="1.667"/>
<line x1="798.22" y1="512.8" x2="798.22" y2="520.09" stroke="#000" stroke-width="1.667"/>
<line x1="1007.82" y1="512.8" x2="1007.82" y2="520.09" stroke="#000" stroke-width="1.667"/>
<line x1="1217.41" y1="512.8" x2="1217.41" y2="520.09" stroke="#000" stroke-width="1.667"/>
<line x1="1427" y1="512.8" x2="1427" y2="520.09" stroke="#000" stroke-width="1.667"/>
<line x1="99.71" y1="467.46" x2="107" y2="467.46" stroke="#000" stroke-width="1.667"/>
<text x="65.58" y="474.76" font-size="19.69" textLength="26.65" lengthAdjust="spacingAndGlyphs">−6</text>
<line x1="99.71" y1="405.11" x2="107" y2="405.11" stroke="#000" stroke-width="1.667"/>
<text x="65.46" y="412.41" font-size="19.69" textLength="26.42" lengthAdjust="spacingAndGlyphs">−4</text>
<line x1="99.71" y1="342.75" x2="107" y2="342.75" stroke="#000" stroke-width="1.667"/>
<text x="66.30" y="350.05" font-size="19.69" textLength="26.05" lengthAdjust="spacingAndGlyphs">−2</text>
<line x1="99.71" y1="280.4" x2="107" y2="280.4" stroke="#000" stroke-width="1.667"/>
<text x="80.98" y="287.70" font-size="19.69" textLength="10.99" lengthAdjust="spacingAndGlyphs">0</text>
<line x1="99.71" y1="218.05" x2="107" y2="218.05" stroke="#000" stroke-width="1.667"/>
<text x="81.56" y="225.35" font-size="19.69" textLength="10.60" lengthAdjust="spacingAndGlyphs">2</text>
<line x1="99.71" y1="155.69" x2="107" y2="155.69" stroke="#000" stroke-width="1.667"/>
<text x="80.79" y="162.99" font-size="19.69" textLength="10.99" lengthAdjust="spacingAndGlyphs">4</text>
<line x1="99.71" y1="93.34" x2="107" y2="93.34" stroke="#000" stroke-width="1.667"/>
<text x="80.72" y="100.64" font-size="19.69" textLength="11.38" lengthAdjust="spacingAndGlyphs">6</text>
<g transform="translate(52.2,340.4) rotate(-90)"><text x="-1.92" y="0.00" font-size="21.87" textLength="124.77" lengthAdjust="spacingAndGlyphs">Returns (%)</text></g>
<g clip-path="url(#c2)">
<polygon points="169.45,721.21 173.64,730.04 177.83,729.64 182.03,736.42 186.22,726.76 190.41,731.92 194.6,718.34 198.79,673.6 202.98,687.85 207.18,681.78 211.37,687.13 215.56,695.8 219.75,708.85 223.94,696.84 228.14,705.02 232.33,714.48 236.52,722.64 240.71,689.07 244.9,642.67 249.09,646.45 253.29,665.34 257.48,675.22 261.67,659.98 265.86,665.05 270.05,661.9 274.25,655.73 278.44,668.91 282.63,674.2 286.82,661.48 291.01,680.16 295.2,685.75 299.4,699.76 303.59,622.87 307.78,583.66 311.97,603.47 316.16,612.57 320.36,639.21 324.55,661.99 328.74,673.34 332.93,679.04 337.12,693.92 341.32,699.54 345.51,677.93 349.7,691.98 353.89,701.72 358.08,712.59 362.27,722.89 366.47,682.02 370.66,695.21 374.85,697.01 379.04,651.15 383.23,643.02 387.43,645.49 391.62,612.7 395.81,626.06 400,651.06 404.19,652.09 408.38,659.08 412.58,628.31 416.77,608.23 420.96,610.67 425.15,625.1 429.34,637.4 433.54,658.62 437.73,649.34 441.92,635.32 446.11,646.29 450.3,667.82 454.49,684.91 458.69,680.97 462.88,696.1 467.07,706.61 471.26,710.61 475.45,707.6 479.65,706.14 483.84,669.56 488.03,670.92 492.22,685.89 496.41,700.52 500.6,704.94 504.8,688.71 508.99,683.01 513.18,691.97 517.37,671.72 521.56,679.34 525.76,693.92 529.95,693.11 534.14,700.18 538.33,695.89 542.52,657.3 546.71,676.55 550.91,674.2 555.1,667.77 559.29,685.19 563.48,681.9 567.67,695.9 571.87,696.41 576.06,695.57 580.25,686.62 584.44,699.46 588.63,710.35 592.83,716.85 597.02,689.82 601.21,697.6 605.4,631.66 609.59,655.71 613.78,675.66 617.98,691.78 622.17,662.74 626.36,678.64 630.55,658.77 634.74,675.23 638.94,669.71 643.13,679.19 647.32,691.68 651.51,692.84 655.7,705.55 659.89,696.91 664.09,708.57 668.28,679.81 672.47,639.07 676.66,660.45 680.85,674.7 685.05,691.23 689.24,698.21 693.43,680.94 697.62,695.63 701.81,700.95 706,710.42 710.2,718.81 714.39,725.15 718.58,725 722.77,723.05 726.96,726.64 731.16,733.71 735.35,736.17 739.54,741.73 743.73,745.16 747.92,730.47 752.11,719.91 756.31,727.84 760.5,730.1 764.69,737.29 768.88,732.3 773.07,738.42 777.27,742.24 781.46,747.22 785.65,750.44 789.84,741.6 794.03,746.6 798.22,751 802.42,754.43 806.61,757.23 810.8,750.95 814.99,736.17 819.18,735.14 823.38,741.41 827.57,744.84 831.76,747.97 835.95,741.59 840.14,746.83 844.34,751.31 848.53,754.83 852.72,757.87 856.91,758.27 861.1,758.86 865.29,757.81 869.49,750.11 873.68,747.59 877.87,751.91 882.06,755.14 886.25,752.96 890.45,756.37 894.64,756.7 898.83,759.48 903.02,761.12 907.21,754.4 911.4,757.14 915.6,758.18 919.79,760.05 923.98,762.2 928.17,764.04 932.36,757.72 936.56,751.67 940.75,754.66 944.94,756.36 949.13,729.02 953.32,734.15 957.51,733.82 961.71,739.59 965.9,744.29 970.09,749.01 974.28,753.11 978.47,756.33 982.67,759.12 986.86,761.35 991.05,721.39 995.24,729.55 999.43,736.88 1003.62,742.24 1007.82,747.2 1012.01,748.79 1016.2,750.96 1020.39,729.23 1024.58,732.98 1028.78,739.81 1032.97,745.2 1037.16,749.92 1041.35,749.36 1045.54,753.36 1049.73,756.34 1053.93,757.66 1058.12,758.8 1062.31,760.92 1066.5,754.84 1070.69,755.81 1074.89,746.59 1079.08,746.46 1083.27,750.21 1087.46,751.01 1091.65,754.78 1095.85,750.33 1100.04,752.59 1104.23,755.79 1108.42,758.13 1112.61,756.66 1116.8,750.25 1121,750.14 1125.19,743.92 1129.38,739.54 1133.57,745.15 1137.76,734.65 1141.96,737.09 1146.15,742.81 1150.34,747.94 1154.53,751.65 1158.72,754.33 1162.91,752.36 1167.11,755.71 1171.3,757.02 1175.49,759.59 1179.68,761.54 1183.87,763.21 1188.07,764.67 1192.26,762.68 1196.45,763.73 1200.64,764.96 1204.83,764.93 1209.02,749.71 1213.22,742.07 1217.41,746.52 1221.6,730.93 1225.79,732.77 1229.98,736.17 1234.18,722.3 1238.37,726.15 1242.56,734.09 1246.75,738.2 1250.94,744.05 1255.13,749 1259.33,704.96 1263.52,716.56 1267.71,725.94 1271.9,733.85 1276.09,738.05 1280.29,737.34 1284.48,742.57 1288.67,745.24 1292.86,749.51 1297.05,745.45 1301.25,749.12 1305.44,745.13 1309.63,739.4 1313.82,731.95 1318.01,736.16 1322.2,730.18 1326.4,734.01 1330.59,728.99 1334.78,720.57 1338.97,722.82 1343.16,727.54 1347.36,722.66 1351.55,719.1 1355.74,707.34 1359.93,716.3 1364.12,724.79 1368.31,729.1 1372.51,715.02 1376.7,709.86 1380.89,702.61 1385.08,713.75 1389.27,712.61 1393.47,718.5 1397.66,719.43 1401.85,721.6 1406.04,697.84 1410.23,705.01 1414.42,678.67 1418.62,692.33 1422.81,705.76 1422.81,794.85 1418.62,794.85 1414.42,794.85 1410.23,794.85 1406.04,794.85 1401.85,794.85 1397.66,794.85 1393.47,794.85 1389.27,794.85 1385.08,794.85 1380.89,794.85 1376.7,794.85 1372.51,794.85 1368.31,794.85 1364.12,794.85 1359.93,794.85 1355.74,794.85 1351.55,794.85 1347.36,794.85 1343.16,794.85 1338.97,794.85 1334.78,794.85 1330.59,794.85 1326.4,794.85 1322.2,794.85 1318.01,794.85 1313.82,794.85 1309.63,794.85 1305.44,794.85 1301.25,794.85 1297.05,794.85 1292.86,794.85 1288.67,794.85 1284.48,794.85 1280.29,794.85 1276.09,794.85 1271.9,794.85 1267.71,794.85 1263.52,794.85 1259.33,794.85 1255.13,794.85 1250.94,794.85 1246.75,794.85 1242.56,794.85 1238.37,794.85 1234.18,794.85 1229.98,794.85 1225.79,794.85 1221.6,794.85 1217.41,794.85 1213.22,794.85 1209.02,794.85 1204.83,794.85 1200.64,794.85 1196.45,794.85 1192.26,794.85 1188.07,794.85 1183.87,794.85 1179.68,794.85 1175.49,794.85 1171.3,794.85 1167.11,794.85 1162.91,794.85 1158.72,794.85 1154.53,794.85 1150.34,794.85 1146.15,794.85 1141.96,794.85 1137.76,794.85 1133.57,794.85 1129.38,794.85 1125.19,794.85 1121,794.85 1116.8,794.85 1112.61,794.85 1108.42,794.85 1104.23,794.85 1100.04,794.85 1095.85,794.85 1091.65,794.85 1087.46,794.85 1083.27,794.85 1079.08,794.85 1074.89,794.85 1070.69,794.85 1066.5,794.85 1062.31,794.85 1058.12,794.85 1053.93,794.85 1049.73,794.85 1045.54,794.85 1041.35,794.85 1037.16,794.85 1032.97,794.85 1028.78,794.85 1024.58,794.85 1020.39,794.85 1016.2,794.85 1012.01,794.85 1007.82,794.85 1003.62,794.85 999.43,794.85 995.24,794.85 991.05,794.85 986.86,794.85 982.67,794.85 978.47,794.85 974.28,794.85 970.09,794.85 965.9,794.85 961.71,794.85 957.51,794.85 953.32,794.85 949.13,794.85 944.94,794.85 940.75,794.85 936.56,794.85 932.36,794.85 928.17,794.85 923.98,794.85 919.79,794.85 915.6,794.85 911.4,794.85 907.21,794.85 903.02,794.85 898.83,794.85 894.64,794.85 890.45,794.85 886.25,794.85 882.06,794.85 877.87,794.85 873.68,794.85 869.49,794.85 865.29,794.85 861.1,794.85 856.91,794.85 852.72,794.85 848.53,794.85 844.34,794.85 840.14,794.85 835.95,794.85 831.76,794.85 827.57,794.85 823.38,794.85 819.18,794.85 814.99,794.85 810.8,794.85 806.61,794.85 802.42,794.85 798.22,794.85 794.03,794.85 789.84,794.85 785.65,794.85 781.46,794.85 777.27,794.85 773.07,794.85 768.88,794.85 764.69,794.85 760.5,794.85 756.31,794.85 752.11,794.85 747.92,794.85 743.73,794.85 739.54,794.85 735.35,794.85 731.16,794.85 726.96,794.85 722.77,794.85 718.58,794.85 714.39,794.85 710.2,794.85 706,794.85 701.81,794.85 697.62,794.85 693.43,794.85 689.24,794.85 685.05,794.85 680.85,794.85 676.66,794.85 672.47,794.85 668.28,794.85 664.09,794.85 659.89,794.85 655.7,794.85 651.51,794.85 647.32,794.85 643.13,794.85 638.94,794.85 634.74,794.85 630.55,794.85 626.36,794.85 622.17,794.85 617.98,794.85 613.78,794.85 609.59,794.85 605.4,794.85 601.21,794.85 597.02,794.85 592.83,794.85 588.63,794.85 584.44,794.85 580.25,794.85 576.06,794.85 571.87,794.85 567.67,794.85 563.48,794.85 559.29,794.85 555.1,794.85 550.91,794.85 546.71,794.85 542.52,794.85 538.33,794.85 534.14,794.85 529.95,794.85 525.76,794.85 521.56,794.85 517.37,794.85 513.18,794.85 508.99,794.85 504.8,794.85 500.6,794.85 496.41,794.85 492.22,794.85 488.03,794.85 483.84,794.85 479.65,794.85 475.45,794.85 471.26,794.85 467.07,794.85 462.88,794.85 458.69,794.85 454.49,794.85 450.3,794.85 446.11,794.85 441.92,794.85 437.73,794.85 433.54,794.85 429.34,794.85 425.15,794.85 420.96,794.85 416.77,794.85 412.58,794.85 408.38,794.85 404.19,794.85 400,794.85 395.81,794.85 391.62,794.85 387.43,794.85 383.23,794.85 379.04,794.85 374.85,794.85 370.66,794.85 366.47,794.85 362.27,794.85 358.08,794.85 353.89,794.85 349.7,794.85 345.51,794.85 341.32,794.85 337.12,794.85 332.93,794.85 328.74,794.85 324.55,794.85 320.36,794.85 316.16,794.85 311.97,794.85 307.78,794.85 303.59,794.85 299.4,794.85 295.2,794.85 291.01,794.85 286.82,794.85 282.63,794.85 278.44,794.85 274.25,794.85 270.05,794.85 265.86,794.85 261.67,794.85 257.48,794.85 253.29,794.85 249.09,794.85 244.9,794.85 240.71,794.85 236.52,794.85 232.33,794.85 228.14,794.85 223.94,794.85 219.75,794.85 215.56,794.85 211.37,794.85 207.18,794.85 202.98,794.85 198.79,794.85 194.6,794.85 190.41,794.85 186.22,794.85 182.03,794.85 177.83,794.85 173.64,794.85 169.45,794.85" fill="#9999d6" stroke="#9999d6" stroke-width="2.08" stroke-linejoin="round"/>
<polyline points="169.45,721.21 173.64,730.04 177.83,729.64 182.03,736.42 186.22,726.76 190.41,731.92 194.6,718.34 198.79,673.6 202.98,687.85 207.18,681.78 211.37,687.13 215.56,695.8 219.75,708.85 223.94,696.84 228.14,705.02 232.33,714.48 236.52,722.64 240.71,689.07 244.9,642.67 249.09,646.45 253.29,665.34 257.48,675.22 261.67,659.98 265.86,665.05 270.05,661.9 274.25,655.73 278.44,668.91 282.63,674.2 286.82,661.48 291.01,680.16 295.2,685.75 299.4,699.76 303.59,622.87 307.78,583.66 311.97,603.47 316.16,612.57 320.36,639.21 324.55,661.99 328.74,673.34 332.93,679.04 337.12,693.92 341.32,699.54 345.51,677.93 349.7,691.98 353.89,701.72 358.08,712.59 362.27,722.89 366.47,682.02 370.66,695.21 374.85,697.01 379.04,651.15 383.23,643.02 387.43,645.49 391.62,612.7 395.81,626.06 400,651.06 404.19,652.09 408.38,659.08 412.58,628.31 416.77,608.23 420.96,610.67 425.15,625.1 429.34,637.4 433.54,658.62 437.73,649.34 441.92,635.32 446.11,646.29 450.3,667.82 454.49,684.91 458.69,680.97 462.88,696.1 467.07,706.61 471.26,710.61 475.45,707.6 479.65,706.14 483.84,669.56 488.03,670.92 492.22,685.89 496.41,700.52 500.6,704.94 504.8,688.71 508.99,683.01 513.18,691.97 517.37,671.72 521.56,679.34 525.76,693.92 529.95,693.11 534.14,700.18 538.33,695.89 542.52,657.3 546.71,676.55 550.91,674.2 555.1,667.77 559.29,685.19 563.48,681.9 567.67,695.9 571.87,696.41 576.06,695.57 580.25,686.62 584.44,699.46 588.63,710.35 592.83,716.85 597.02,689.82 601.21,697.6 605.4,631.66 609.59,655.71 613.78,675.66 617.98,691.78 622.17,662.74 626.36,678.64 630.55,658.77 634.74,675.23 638.94,669.71 643.13,679.19 647.32,691.68 651.51,692.84 655.7,705.55 659.89,696.91 664.09,708.57 668.28,679.81 672.47,639.07 676.66,660.45 680.85,674.7 685.05,691.23 689.24,698.21 693.43,680.94 697.62,695.63 701.81,700.95 706,710.42 710.2,718.81 714.39,725.15 718.58,725 722.77,723.05 726.96,726.64 731.16,733.71 735.35,736.17 739.54,741.73 743.73,745.16 747.92,730.47 752.11,719.91 756.31,727.84 760.5,730.1 764.69,737.29 768.88,732.3 773.07,738.42 777.27,742.24 781.46,747.22 785.65,750.44 789.84,741.6 794.03,746.6 798.22,751 802.42,754.43 806.61,757.23 810.8,750.95 814.99,736.17 819.18,735.14 823.38,741.41 827.57,744.84 831.76,747.97 835.95,741.59 840.14,746.83 844.34,751.31 848.53,754.83 852.72,757.87 856.91,758.27 861.1,758.86 865.29,757.81 869.49,750.11 873.68,747.59 877.87,751.91 882.06,755.14 886.25,752.96 890.45,756.37 894.64,756.7 898.83,759.48 903.02,761.12 907.21,754.4 911.4,757.14 915.6,758.18 919.79,760.05 923.98,762.2 928.17,764.04 932.36,757.72 936.56,751.67 940.75,754.66 944.94,756.36 949.13,729.02 953.32,734.15 957.51,733.82 961.71,739.59 965.9,744.29 970.09,749.01 974.28,753.11 978.47,756.33 982.67,759.12 986.86,761.35 991.05,721.39 995.24,729.55 999.43,736.88 1003.62,742.24 1007.82,747.2 1012.01,748.79 1016.2,750.96 1020.39,729.23 1024.58,732.98 1028.78,739.81 1032.97,745.2 1037.16,749.92 1041.35,749.36 1045.54,753.36 1049.73,756.34 1053.93,757.66 1058.12,758.8 1062.31,760.92 1066.5,754.84 1070.69,755.81 1074.89,746.59 1079.08,746.46 1083.27,750.21 1087.46,751.01 1091.65,754.78 1095.85,750.33 1100.04,752.59 1104.23,755.79 1108.42,758.13 1112.61,756.66 1116.8,750.25 1121,750.14 1125.19,743.92 1129.38,739.54 1133.57,745.15 1137.76,734.65 1141.96,737.09 1146.15,742.81 1150.34,747.94 1154.53,751.65 1158.72,754.33 1162.91,752.36 1167.11,755.71 1171.3,757.02 1175.49,759.59 1179.68,761.54 1183.87,763.21 1188.07,764.67 1192.26,762.68 1196.45,763.73 1200.64,764.96 1204.83,764.93 1209.02,749.71 1213.22,742.07 1217.41,746.52 1221.6,730.93 1225.79,732.77 1229.98,736.17 1234.18,722.3 1238.37,726.15 1242.56,734.09 1246.75,738.2 1250.94,744.05 1255.13,749 1259.33,704.96 1263.52,716.56 1267.71,725.94 1271.9,733.85 1276.09,738.05 1280.29,737.34 1284.48,742.57 1288.67,745.24 1292.86,749.51 1297.05,745.45 1301.25,749.12 1305.44,745.13 1309.63,739.4 1313.82,731.95 1318.01,736.16 1322.2,730.18 1326.4,734.01 1330.59,728.99 1334.78,720.57 1338.97,722.82 1343.16,727.54 1347.36,722.66 1351.55,719.1 1355.74,707.34 1359.93,716.3 1364.12,724.79 1368.31,729.1 1372.51,715.02 1376.7,709.86 1380.89,702.61 1385.08,713.75 1389.27,712.61 1393.47,718.5 1397.66,719.43 1401.85,721.6 1406.04,697.84 1410.23,705.01 1414.42,678.67 1418.62,692.33 1422.81,705.76" fill="none" stroke="#2828b4" stroke-width="1.55" stroke-linejoin="round"/>
<line x1="107" y1="721.21" x2="1485.4" y2="721.21" stroke="#d62728" stroke-width="3.125" stroke-dasharray="11.56 5"/>
</g>
<rect x="107" y="573.2" width="1378.4" height="232.3" fill="none" stroke="#000" stroke-width="1.667"/>
<line x1="169.45" y1="805.5" x2="169.45" y2="812.79" stroke="#000" stroke-width="1.667"/>
<text x="164.15" y="834.80" font-size="19.69" textLength="10.99" lengthAdjust="spacingAndGlyphs">0</text>
<line x1="379.04" y1="805.5" x2="379.04" y2="812.79" stroke="#000" stroke-width="1.667"/>
<text x="367.84" y="834.80" font-size="19.69" textLength="22.79" lengthAdjust="spacingAndGlyphs">50</text>
<line x1="588.63" y1="805.5" x2="588.63" y2="812.79" stroke="#000" stroke-width="1.667"/>
<text x="571.00" y="834.80" font-size="19.69" textLength="34.89" lengthAdjust="spacingAndGlyphs">100</text>
<line x1="798.22" y1="805.5" x2="798.22" y2="812.79" stroke="#000" stroke-width="1.667"/>
<text x="780.59" y="834.80" font-size="19.69" textLength="34.89" lengthAdjust="spacingAndGlyphs">150</text>
<line x1="1007.82" y1="805.5" x2="1007.82" y2="812.79" stroke="#000" stroke-width="1.667"/>
<text x="990.38" y="834.80" font-size="19.69" textLength="35.05" lengthAdjust="spacingAndGlyphs">200</text>
<line x1="1217.41" y1="805.5" x2="1217.41" y2="812.79" stroke="#000" stroke-width="1.667"/>
<text x="1199.97" y="834.80" font-size="19.69" textLength="35.05" lengthAdjust="spacingAndGlyphs">250</text>
<line x1="1427" y1="805.5" x2="1427" y2="812.79" stroke="#000" stroke-width="1.667"/>
<text x="1409.85" y="834.80" font-size="19.69" textLength="34.72" lengthAdjust="spacingAndGlyphs">300</text>
<line x1="99.71" y1="794.85" x2="107" y2="794.85" stroke="#000" stroke-width="1.667"/>
<text x="63.05" y="801.85" font-size="19.69" textLength="28.97" lengthAdjust="spacingAndGlyphs">0.0</text>
<line x1="99.71" y1="748.82" x2="107" y2="748.82" stroke="#000" stroke-width="1.667"/>
<text x="63.35" y="755.82" font-size="19.69" textLength="28.71" lengthAdjust="spacingAndGlyphs">2.5</text>
<line x1="99.71" y1="702.8" x2="107" y2="702.8" stroke="#000" stroke-width="1.667"/>
<text x="63.24" y="709.80" font-size="19.69" textLength="28.76" lengthAdjust="spacingAndGlyphs">5.0</text>
<line x1="99.71" y1="656.77" x2="107" y2="656.77" stroke="#000" stroke-width="1.667"/>
<text x="63.50" y="663.77" font-size="19.69" textLength="28.56" lengthAdjust="spacingAndGlyphs">7.5</text>
<line x1="99.71" y1="610.74" x2="107" y2="610.74" stroke="#000" stroke-width="1.667"/>
<text x="51.16" y="617.74" font-size="19.69" textLength="40.86" lengthAdjust="spacingAndGlyphs">10.0</text>
<text x="733.89" y="863.30" font-size="21.87" textLength="123.35" lengthAdjust="spacingAndGlyphs">Trading Day</text>
<text x="661.89" y="561.00" font-size="24.07" font-weight="bold" textLength="268.43" lengthAdjust="spacingAndGlyphs">Conditional Variance</text>
<text x="581.21" y="35.60" font-size="24.07" font-weight="bold" textLength="161.46" lengthAdjust="spacingAndGlyphs">GARCH(1,1):</text>
<text x="749.87" y="35.60" font-size="24.07" font-style="italic" textLength="16.95" lengthAdjust="spacingAndGlyphs">σ</text>
<text x="766.94" y="26.50" font-size="16.85" textLength="8.42" lengthAdjust="spacingAndGlyphs">2</text>
<text x="764.50" y="41.80" font-size="16.85" font-style="italic" textLength="5.51" lengthAdjust="spacingAndGlyphs">t</text>
<text x="781.53" y="35.60" font-size="24.07" textLength="17.55" lengthAdjust="spacingAndGlyphs">=</text>
<text x="805.33" y="35.60" font-size="24.07" font-style="italic" textLength="18.32" lengthAdjust="spacingAndGlyphs">ω</text>
<text x="829.13" y="35.60" font-size="24.07" textLength="17.55" lengthAdjust="spacingAndGlyphs">+</text>
<text x="851.96" y="35.60" font-size="24.07" font-style="italic" textLength="14.06" lengthAdjust="spacingAndGlyphs">α</text>
<text x="866.93" y="35.60" font-size="24.07" font-style="italic" textLength="12.34" lengthAdjust="spacingAndGlyphs">ε</text>
<text x="880.75" y="26.40" font-size="16.85" textLength="9.40" lengthAdjust="spacingAndGlyphs">2</text>
<text x="879.77" y="41.40" font-size="16.85" font-style="italic" textLength="5.10" lengthAdjust="spacingAndGlyphs">t</text>
<text x="889.77" y="41.40" font-size="16.85" textLength="12.14" lengthAdjust="spacingAndGlyphs">−</text>
<text x="905.84" y="41.40" font-size="16.85" textLength="9.93" lengthAdjust="spacingAndGlyphs">1</text>
<text x="921.83" y="35.60" font-size="24.07" textLength="17.55" lengthAdjust="spacingAndGlyphs">+</text>
<text x="945.29" y="35.60" font-size="24.07" font-style="italic" textLength="11.50" lengthAdjust="spacingAndGlyphs">β</text>
<text x="959.13" y="35.60" font-size="24.07" font-style="italic" textLength="14.05" lengthAdjust="spacingAndGlyphs">σ</text>
<text x="974.39" y="26.40" font-size="16.85" textLength="10.01" lengthAdjust="spacingAndGlyphs">2</text>
<text x="973.47" y="41.40" font-size="16.85" font-style="italic" textLength="5.10" lengthAdjust="spacingAndGlyphs">t</text>
<text x="983.42" y="41.40" font-size="16.85" textLength="12.74" lengthAdjust="spacingAndGlyphs">−</text>
<text x="999.54" y="41.40" font-size="16.85" textLength="9.93" lengthAdjust="spacingAndGlyphs">1</text>
<rect x="128.5" y="51.9" width="134.8" height="93.8" rx="5.6" ry="5.6" fill="#ffffff" fill-opacity="0.8" stroke="#000000" stroke-opacity="0.8" stroke-width="1.8"/>
<text x="134.35" y="70.50" font-size="19.69" font-style="italic" textLength="15.59" lengthAdjust="spacingAndGlyphs">ω</text>
<text x="156.15" y="70.50" font-size="19.69" textLength="14.90" lengthAdjust="spacingAndGlyphs">=</text>
<text x="177.77" y="70.50" font-size="19.69" textLength="76.90" lengthAdjust="spacingAndGlyphs">0.00002</text>
<text x="134.36" y="91.70" font-size="19.69" font-style="italic" textLength="10.70" lengthAdjust="spacingAndGlyphs">α</text>
<text x="152.61" y="91.70" font-size="19.69" textLength="15.39" lengthAdjust="spacingAndGlyphs">=</text>
<text x="173.96" y="91.70" font-size="19.69" textLength="41.82" lengthAdjust="spacingAndGlyphs">0.12</text>
<text x="135.19" y="112.90" font-size="19.69" font-style="italic" textLength="11.50" lengthAdjust="spacingAndGlyphs">β</text>
<text x="152.34" y="112.90" font-size="19.69" textLength="15.03" lengthAdjust="spacingAndGlyphs">=</text>
<text x="173.98" y="112.90" font-size="19.69" textLength="41.05" lengthAdjust="spacingAndGlyphs">0.83</text>
<text x="134.36" y="134.70" font-size="19.69" font-style="italic" textLength="10.70" lengthAdjust="spacingAndGlyphs">α</text>
<text x="150.55" y="134.70" font-size="19.69" textLength="14.90" lengthAdjust="spacingAndGlyphs">+</text>
<text x="170.28" y="134.70" font-size="19.69" font-style="italic" textLength="11.30" lengthAdjust="spacingAndGlyphs">β</text>
<text x="187.18" y="134.70" font-size="19.69" textLength="15.75" lengthAdjust="spacingAndGlyphs">=</text>
<text x="208.85" y="134.70" font-size="19.69" textLength="42.26" lengthAdjust="spacingAndGlyphs">0.95</text>
<rect x="1352.7" y="56.6" width="124.4" height="79.5" rx="2.9" ry="2.9" fill="#ffffff" fill-opacity="0.8" stroke="#cccccc" stroke-opacity="0.8" stroke-width="1.5"/>
<line x1="1359.1" y1="70.1" x2="1393.7" y2="70.1" stroke="#2E75C8" stroke-width="1.25"/>
<rect x="1359.1" y="88.0" width="34.6" height="12.7" fill="#ff7f0e" fill-opacity="0.25"/>
<rect x="1359.1" y="113.2" width="34.6" height="12.7" fill="#ff7f0e" fill-opacity="0.35"/>
<text x="1405.78" y="76.30" font-size="17.50" textLength="64.89" lengthAdjust="spacingAndGlyphs">Returns</text>
<text x="1407.07" y="100.00" font-size="17.50" textLength="12.65" lengthAdjust="spacingAndGlyphs">±</text>
<text x="1420.59" y="100.00" font-size="17.50" textLength="10.01" lengthAdjust="spacingAndGlyphs">2</text>
<text x="1431.14" y="100.00" font-size="17.50" font-style="italic" textLength="10.23" lengthAdjust="spacingAndGlyphs">σ</text>
<text x="1441.70" y="103.10" font-size="12.25" font-style="italic" textLength="4.26" lengthAdjust="spacingAndGlyphs">t</text>
<text x="1407.07" y="124.90" font-size="17.50" textLength="12.65" lengthAdjust="spacingAndGlyphs">±</text>
<text x="1421.35" y="124.90" font-size="17.50" textLength="8.38" lengthAdjust="spacingAndGlyphs">1</text>
<text x="1431.14" y="124.90" font-size="17.50" font-style="italic" textLength="10.23" lengthAdjust="spacingAndGlyphs">σ</text>
<text x="1441.70" y="128.00" font-size="12.25" font-style="italic" textLength="4.26" lengthAdjust="spacingAndGlyphs">t</text>
<rect x="1197.6" y="582.0" width="279.8" height="29.0" rx="2.9" ry="2.9" fill="#ffffff" fill-opacity="0.8" stroke="#cccccc" stroke-opacity="0.8" stroke-width="1.5"/>
<line x1="1204" y1="595" x2="1238" y2="595" stroke="#d62728" stroke-width="3.125" stroke-dasharray="11.56 5"/>
<text x="1250.51" y="601.00" font-size="17.50" textLength="219.65" lengthAdjust="spacingAndGlyphs">Unconditional var = 4.000</text>
<g transform="translate(33.8,727.1) rotate(-90)">
<text x="-0.27" y="0.00" font-size="21.87" font-style="italic" textLength="12.24" lengthAdjust="spacingAndGlyphs">σ</text>
<text x="13.43" y="-7.70" font-size="15.31" textLength="8.55" lengthAdjust="spacingAndGlyphs">2</text>
<text x="12.26" y="5.20" font-size="15.31" font-style="italic" textLength="5.15" lengthAdjust="spacingAndGlyphs">t</text>
<text x="31.04" y="-1.30" font-size="21.87" textLength="5.15" lengthAdjust="spacingAndGlyphs">(</text>
<text x="38.24" y="0.20" font-size="21.87" textLength="18.92" lengthAdjust="spacingAndGlyphs">%</text>
<text x="58.06" y="-7.90" font-size="15.31" textLength="8.18" lengthAdjust="spacingAndGlyphs">2</text>
<text x="69.60" y="-1.30" font-size="21.87" textLength="5.53" lengthAdjust="spacingAndGlyphs">)</text>
</g>
</svg>
</body></html>
